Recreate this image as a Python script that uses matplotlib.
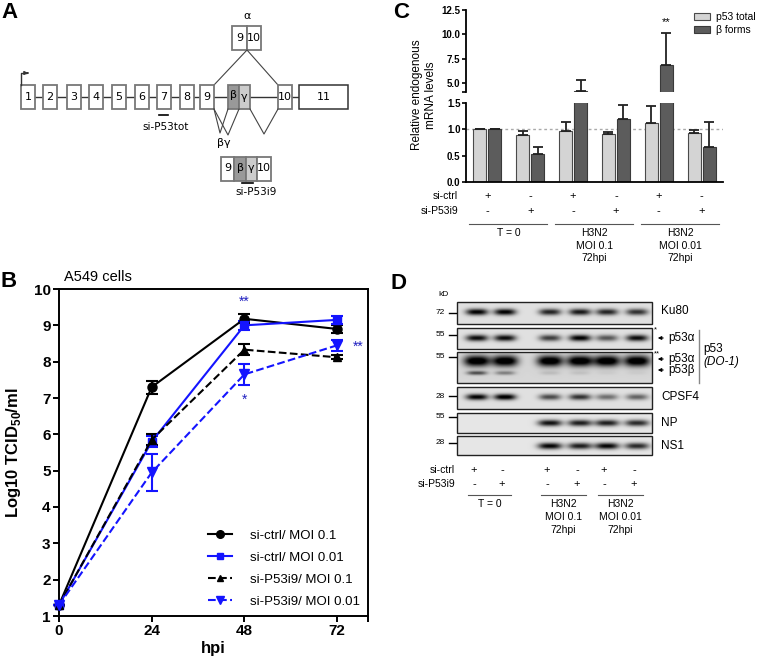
import numpy as np
import matplotlib
matplotlib.use('Agg')
import matplotlib.pyplot as plt
from matplotlib.patches import Rectangle
from matplotlib.lines import Line2D

plt.rcParams['font.family'] = ['Liberation Sans', 'DejaVu Sans']
plt.rcParams['mathtext.fontset'] = 'custom'
plt.rcParams['mathtext.rm'] = 'Liberation Sans'
plt.rcParams['mathtext.bf'] = 'Liberation Sans:bold'

# ---- panel B: virus titre
hpi = [0, 24, 48, 72]
ctrl_moi01 = [1.3, 7.3, 9.18, 8.9]
ctrl_moi01_err = [0.0, 0.18, 0.12, 0.12]
ctrl_moi001 = [1.3, 5.8, 9.0, 9.15]
ctrl_moi001_err = [0.0, 0.15, 0.12, 0.12]
i9_moi01 = [1.3, 5.85, 8.33, 8.12]
i9_moi01_err = [0.0, 0.15, 0.15, 0.05]
i9_moi001 = [1.3, 4.95, 7.65, 8.45]
i9_moi001_err = [0.0, 0.5, 0.28, 0.15]
b_labels = ['si-ctrl/ MOI 0.1', 'si-ctrl/ MOI 0.01',
            'si-P53i9/ MOI 0.1', 'si-P53i9/ MOI 0.01']

# ---- panel C: mRNA levels
p53_total = [1.0, 0.9, 0.97, 0.91, 1.12, 0.93]
p53_total_err = [0.0, 0.06, 0.17, 0.03, 0.33, 0.06]
beta_forms = [1.0, 0.54, 4.2, 1.19, 6.8, 0.66]
beta_forms_err = [0.0, 0.12, 1.1, 0.27, 3.3, 0.47]
si_ctrl = ['+', '-', '+', '-', '+', '-']
si_p53i9 = ['-', '+', '-', '+', '-', '+']
groups = ['T = 0', 'H3N2\nMOI 0.1\n72hpi', 'H3N2\nMOI 0.01\n72hpi']

# ---- panel D: western blot band intensities per lane
ku80 = [0.9, 0.9, 0.75, 0.8, 0.75, 0.7]
p53a_short = [0.85, 0.85, 0.65, 0.9, 0.55, 0.85]
p53a_long = [1.0, 1.0, 1.0, 1.0, 1.0, 1.0]
p53b_long = [0.55, 0.35, 0.1, 0.08, 0.04, 0.04]
cpsf4 = [0.9, 0.95, 0.6, 0.7, 0.45, 0.5]
np_band = [0.0, 0.0, 0.85, 0.8, 0.8, 0.75]
ns1 = [0.0, 0.0, 0.9, 0.8, 0.9, 0.75]
blot_names = ['Ku80', 'CPSF4', 'NP', 'NS1']

W, H = 760, 664
fig = plt.figure(figsize=(W / 100, H / 100), dpi=100)
ov = fig.add_axes([0, 0, 1, 1])
ov.set_xlim(0, W)
ov.set_ylim(H, 0)
ov.axis('off')

dj = ['DejaVu Sans']
for lab, (x, y) in zip('ABCD', [(1, 2), (1, 271), (393, 2), (391, 273)]):
    ov.text(x, y, lab, fontsize=16, fontweight='bold', va='top')

# ---- panel A: gene diagram
exon_x = [21, 43, 67, 89, 112, 135, 157, 180, 200]
gray = '#777777'
ov.plot([35, 299], [97, 97], color='#333', lw=1, zorder=1)
for i, x in enumerate(exon_x):
    ov.add_patch(Rectangle((x, 85), 14, 24, fc='white', ec=gray, lw=1.3, zorder=2))
    ov.text(x + 7, 97, str(i + 1), ha='center', va='center', fontsize=8, family=dj, zorder=3)
ov.add_patch(Rectangle((228, 85), 11, 24, fc='#999999', ec=gray, lw=1.3, zorder=2))
ov.add_patch(Rectangle((239, 85), 11, 24, fc='#cccccc', ec=gray, lw=1.3, zorder=2))
ov.text(233.5, 95, 'β', ha='center', va='center', fontsize=8, family=dj, zorder=3)
ov.text(244.5, 97, 'γ', ha='center', va='center', fontsize=8, family=dj, zorder=3)
ov.add_patch(Rectangle((278, 85), 14, 24, fc='white', ec=gray, lw=1.3, zorder=2))
ov.text(285, 97, '10', ha='center', va='center', fontsize=8, family=dj, zorder=3)
ov.add_patch(Rectangle((299, 85), 49, 24, fc='white', ec='#333', lw=1.1, zorder=2))
ov.text(323.5, 97, '11', ha='center', va='center', fontsize=8, family=dj, zorder=3)
# start arrow
ov.plot([21, 21, 26], [85, 73, 73], color='#333', lw=1)
ov.annotate('', xy=(31, 73), xytext=(25, 73),
            arrowprops=dict(arrowstyle='-|>', color='#333', lw=1, mutation_scale=5))
# alpha splice
ov.add_patch(Rectangle((232, 26), 15, 24, fc='white', ec=gray, lw=1.3))
ov.add_patch(Rectangle((247, 26), 14, 24, fc='white', ec=gray, lw=1.3))
ov.text(239.5, 38, '9', ha='center', va='center', fontsize=8, family=dj)
ov.text(254, 38, '10', ha='center', va='center', fontsize=8, family=dj)
ov.text(247, 16, 'α', ha='center', va='center', fontsize=8, family=dj)
ov.plot([214, 247, 278], [85, 50, 85], color='#444', lw=0.8, zorder=1)
# beta / gamma splices
ov.plot([214, 220, 228], [109, 133, 109], color='#444', lw=0.8)
ov.plot([214, 228, 239], [109, 135, 109], color='#444', lw=0.8)
ov.plot([250, 264, 278], [109, 134, 109], color='#444', lw=0.8)
ov.text(224, 143, 'βγ', ha='center', va='center', fontsize=8, family=dj)
for x0, x1, fc, t in [(221, 234, 'white', '9'), (234, 246, '#999999', 'β'),
                      (246, 257, '#cccccc', 'γ'), (257, 271, 'white', '10')]:
    ov.add_patch(Rectangle((x0, 157), x1 - x0, 24, fc=fc, ec=gray, lw=1.3))
    ov.text((x0 + x1) / 2, 168, t, ha='center', va='center', fontsize=8, family=dj)
ov.plot([242, 253], [183, 183], color='k', lw=1.2)
ov.text(256, 192, 'si-P53i9', ha='center', va='center', fontsize=7.5, family=dj)
ov.plot([159, 168], [115, 115], color='k', lw=1.2)
ov.text(166, 127, 'si-P53tot', ha='center', va='center', fontsize=7.5, family=dj)

# ---- panel B
blue = '#1414ff'
axB = fig.add_axes([59 / W, 1 - 616 / H, 309 / W, 327 / H])
styles = [('k', 'o', '-', 6.5), (blue, 's', '-', 6), ('k', '^', '--', 6), (blue, 'v', '--', 6.5)]
series = [(ctrl_moi01, ctrl_moi01_err), (ctrl_moi001, ctrl_moi001_err),
          (i9_moi01, i9_moi01_err), (i9_moi001, i9_moi001_err)]
handles = []
for (vals, err), (c, m, ls, ms), lab in zip(series, styles, b_labels):
    axB.errorbar(hpi, vals, yerr=err, color=c, marker=m, ls=ls, ms=ms, lw=1.5,
                 capsize=4, capthick=1.5, elinewidth=1.5, clip_on=False, zorder=3)
    handles.append(Line2D([], [], color=c, marker=m, ls=ls, ms=ms - 1, lw=1.5))
axB.set_xlim(0, 80)
axB.set_ylim(1, 10)
axB.set_xticks([0, 24, 48, 72, 80], ['0', '24', '48', '72', ''])
axB.set_yticks(range(1, 11))
for s in axB.spines.values():
    s.set_linewidth(1.4)
axB.tick_params(width=1.4, length=4, labelsize=11, pad=2)
for t in axB.get_xticklabels() + axB.get_yticklabels():
    t.set_fontweight('bold')
axB.set_xlabel('hpi', fontsize=12, fontweight='bold', labelpad=2)
axB.set_ylabel(r'Log10 TCID$_{\mathbf{50}}$/ml', fontsize=12, fontweight='bold', labelpad=8)
axB.text(0.015, 1.015, 'A549 cells', transform=axB.transAxes, fontsize=10.5, va='bottom')
axB.text(48, 9.55, '**', color='#2020c0', ha='center', fontsize=10)
axB.text(48, 6.85, '*', color='#2020c0', ha='center', fontsize=10)
axB.text(77.5, 8.3, '**', color='#2020c0', ha='center', fontsize=10, clip_on=False)
axB.legend(handles, b_labels, loc='lower right', frameon=False, fontsize=9.5,
           handlelength=1.8, labelspacing=0.75, borderaxespad=0.2, handletextpad=1.4)

# ---- panel C (broken y axis)
x = np.arange(len(p53_total))
zeros = np.zeros(len(x))
axCl = fig.add_axes([466 / W, 1 - 182 / H, 257 / W, 79 / H])
axCu = fig.add_axes([466 / W, 1 - 92 / H, 257 / W, 82 / H])
ekw = dict(capsize=3.5, lw=1.3, capthick=1.3, ecolor='#222')
for ax in (axCl, axCu):
    b1 = ax.bar(x - 0.175, p53_total, 0.3, yerr=[zeros, p53_total_err], color='#d4d4d4',
                edgecolor='#4a4a4a', lw=0.8, error_kw=ekw, label='p53 total')
    b2 = ax.bar(x + 0.175, beta_forms, 0.3, yerr=[zeros, beta_forms_err], color='#5c5c5c',
                edgecolor='#3a3a3a', lw=0.8, error_kw=ekw, label='β forms')
    ax.set_xlim(-0.5, 5.5)
    ax.set_xticks([])
    ax.spines[['top', 'right']].set_visible(False)
    for s in ax.spines.values():
        s.set_linewidth(1.3)
    ax.tick_params(width=1.2, length=3, labelsize=7, pad=1)
axCu.spines['bottom'].set_visible(False)
axCl.set_ylim(0, 1.5)
axCu.set_ylim(4.05, 12.5)
axCl.set_yticks([0, 0.5, 1.0, 1.5], ['0.0', '0.5', '1.0', '1.5'])
axCu.set_yticks([4.05, 5, 7.5, 10, 12.5], ['', '5.0', '7.5', '10.0', '12.5'])
for ax in (axCl, axCu):
    for t in ax.get_yticklabels():
        t.set_fontweight('bold')
axCl.axhline(1.0, color='#aaaaaa', ls=(0, (2, 2)), lw=1, zorder=0.5)
axCu.text(x[4] + 0.175, 10.9, '**', ha='center', fontsize=8)
ov.text(424, 95, 'Relative endogenous\nmRNA levels', rotation=90, ha='center',
        va='center', fontsize=8.5, linespacing=1.3)
fig.legend([b1, b2], ['p53 total', 'β forms'], loc='upper left',
           bbox_to_anchor=(694 / W, 1 - 12 / H), frameon=False, fontsize=7.5,
           handlelength=1.5, handleheight=0.7, labelspacing=0.3, handletextpad=0.6,
           borderaxespad=0, borderpad=0)

tr = axCl.get_xaxis_transform()
axCl.text(-0.03, -0.18, 'si-ctrl', transform=axCl.transAxes, ha='right', va='center', fontsize=7.5)
axCl.text(-0.03, -0.37, 'si-P53i9', transform=axCl.transAxes, ha='right', va='center', fontsize=7.5)
for xi, a, b in zip(x, si_ctrl, si_p53i9):
    axCl.text(xi, -0.18, a, transform=tr, ha='center', va='center', fontsize=8)
    axCl.text(xi, -0.37, b, transform=tr, ha='center', va='center', fontsize=8)
for g, lab in enumerate(groups):
    axCl.plot([2 * g - 0.42, 2 * g + 1.4], [-0.53, -0.53], transform=tr, color='#555',
              lw=0.8, clip_on=False)
    axCl.text(2 * g + 0.5, -0.58, lab, transform=tr, ha='center', va='top',
              fontsize=7.5, linespacing=1.35)

# ---- panel D: blot
lane_x = [477, 505, 550, 580, 607, 637]
bx0, bx1 = 457, 652


def strip(y0, y1, bands, bg=0.86):
    sc = 4
    h, w = int((y1 - y0) * sc), int((bx1 - bx0) * sc)
    yy, xx = np.mgrid[0:h, 0:w]
    yy = y0 + (yy + 0.5) / sc
    xx = bx0 + (xx + 0.5) / sc
    img = np.full((h, w), bg)
    for vals, yc, hw, hh in bands:
        for lx, v in zip(lane_x, vals):
            img -= v * np.exp(-np.abs((xx - lx) / hw) ** 3 - ((yy - yc) / hh) ** 2)
    img = np.clip(img, 0, 1)
    ov.imshow(img, cmap='gray', vmin=0, vmax=1, extent=(bx0, bx1, y1, y0),
              aspect='auto', interpolation='bilinear', zorder=1)
    ov.add_patch(Rectangle((bx0, y0), bx1 - bx0, y1 - y0, fill=False, ec='#222', lw=1, zorder=2))


strip(302, 324, [(ku80, 312, 11, 3.2)], bg=0.88)
strip(328, 349, [(p53a_short, 338, 11, 3.2)], bg=0.88)
strip(352, 383, [(p53a_long, 361, 13, 5.5), (p53b_long, 373, 10, 2.0)], bg=0.84)
strip(387, 409, [(cpsf4, 397, 11, 3.0)], bg=0.88)
strip(413, 433, [(np_band, 423, 12, 3.2)], bg=0.9)
strip(436, 455, [(ns1, 446, 12, 3.2)], bg=0.9)

ov.text(438, 294, 'kD', fontsize=6, ha='left', va='center')
for y, kd in [(313, '72'), (335, '55'), (357, '55'), (396, '28'), (417, '55'), (443, '28')]:
    ov.text(445, y, kd, fontsize=6, ha='right', va='center')
    ov.plot([449, 456], [y, y], color='k', lw=1)
for y, name in zip([311, 397, 423, 446], blot_names):
    ov.text(661, y, name, fontsize=8.5, va='center')
for y, name in [(338, 'p53α'), (359, 'p53α'), (370, 'p53β')]:
    ov.annotate('', xy=(655, y), xytext=(666, y),
                arrowprops=dict(arrowstyle='-|>', color='k', lw=0.8, mutation_scale=5))
    ov.text(668, y, name, fontsize=8.5, va='center')
ov.text(654, 330, '*', fontsize=5.5, va='center')
ov.text(654, 354, '**', fontsize=5.5, va='center')
ov.plot([699, 699], [330, 383], color='#888', lw=1)
ov.text(703, 349, 'p53', fontsize=8.5, va='center')
ov.text(703, 362, '(DO-1)', fontsize=8.5, va='center', style='italic')

ov.text(455, 470, 'si-ctrl', fontsize=7.5, ha='right', va='center')
ov.text(455, 484, 'si-P53i9', fontsize=7.5, ha='right', va='center')
for lx, a, b in zip(lane_x, si_ctrl, si_p53i9):
    ov.text(lx - 3, 470, a, fontsize=8, ha='center', va='center')
    ov.text(lx - 3, 484, b, fontsize=8, ha='center', va='center')
for g, lab in enumerate(groups):
    xa, xb = lane_x[2 * g] - 9, lane_x[2 * g + 1] + 6
    ov.plot([xa, xb], [495, 495], color='#555', lw=0.8)
    ov.text((xa + xb) / 2, 499, lab, fontsize=7.5, ha='center', va='top', linespacing=1.35)

fig.savefig('out.png', dpi=100)
